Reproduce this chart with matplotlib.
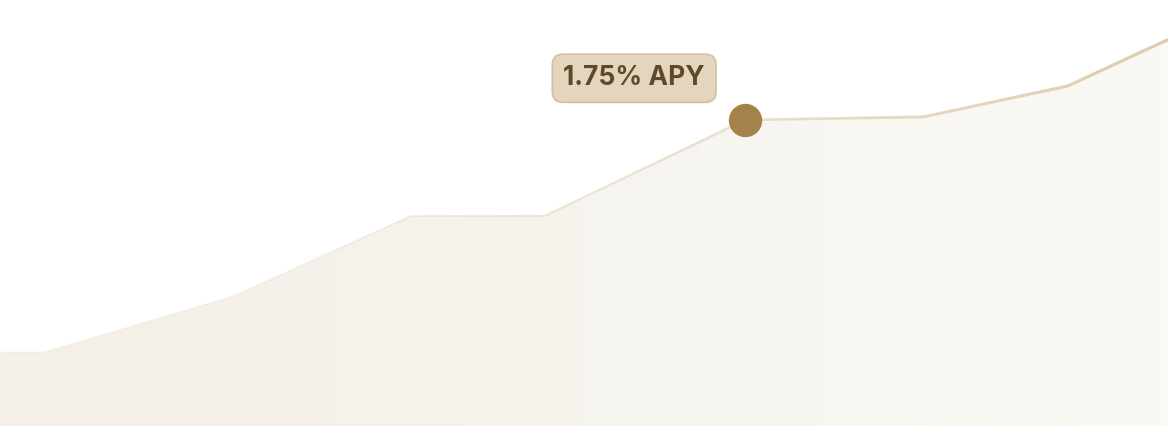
import matplotlib.pyplot as plt
import numpy as np
from matplotlib.collections import LineCollection
from matplotlib.colors import LinearSegmentedColormap, to_rgba
from matplotlib.patches import Polygon

# days since start and the APY (%) on those days
days = [0, 4, 21, 37, 49, 67, 83, 96, 105]
apy = [1.00, 1.00, 1.18, 1.44, 1.44, 1.75, 1.76, 1.86, 2.01]
highlight = 5
label = "1.75% APY"

line_col = "#dcc6a8"
dot_col = "#a4834a"

fig = plt.figure(figsize=(11.68, 4.26), dpi=100)
ax = fig.add_axes([0, 0, 1, 1])
ax.set_xlim(0, 105)
ax.set_ylim(0.76, 2.138)
ax.axis("off")

x = np.array(days, dtype=float)
y = np.array(apy)

# area under the line, horizontal colour gradient
poly = Polygon(np.column_stack([np.r_[x, x[-1], x[0]], np.r_[y, 0.76, 0.76]]),
               closed=True, facecolor="none", edgecolor="none")
ax.add_patch(poly)
cmap = LinearSegmentedColormap.from_list("fill", ["#f4efe7", "#f9f9f5"])
grad = np.linspace(0, 1, 1024).reshape(1, -1)
im = ax.imshow(grad, cmap=cmap, aspect="auto", extent=[0, 105, 0.76, 2.138],
               interpolation="bilinear", zorder=1)
im.set_clip_path(poly)

# line fading in from the left
xs = np.linspace(x[0], x[-1], 800)
ys = np.interp(xs, x, y)
pts = np.column_stack([xs, ys]).reshape(-1, 1, 2)
segs = np.concatenate([pts[:-1], pts[1:]], axis=1)
t = np.linspace(0, 1, len(segs))
cols = np.tile(np.array(to_rgba(line_col)), (len(segs), 1))
cols[:, 3] = 0.05 + 0.95 * t ** 1.4
lc = LineCollection(segs, colors=cols, linewidths=1.0 + 1.3 * t,
                    capstyle="butt", zorder=2)
ax.add_collection(lc)

ax.plot(x[highlight], y[highlight], "o", color=dot_col, markersize=23, zorder=3)
ax.annotate(label, (x[highlight], y[highlight]), xytext=(-80, 30),
            textcoords="offset points", ha="center", va="center",
            fontsize=19, fontweight="bold", family="Inter", color="#5e4a2a",
            bbox=dict(boxstyle="round,pad=0.42,rounding_size=0.4",
                      fc="#e4d5bf", ec="#d4bf9e", lw=1.2), zorder=4)

fig.savefig("out.png", dpi=100)
